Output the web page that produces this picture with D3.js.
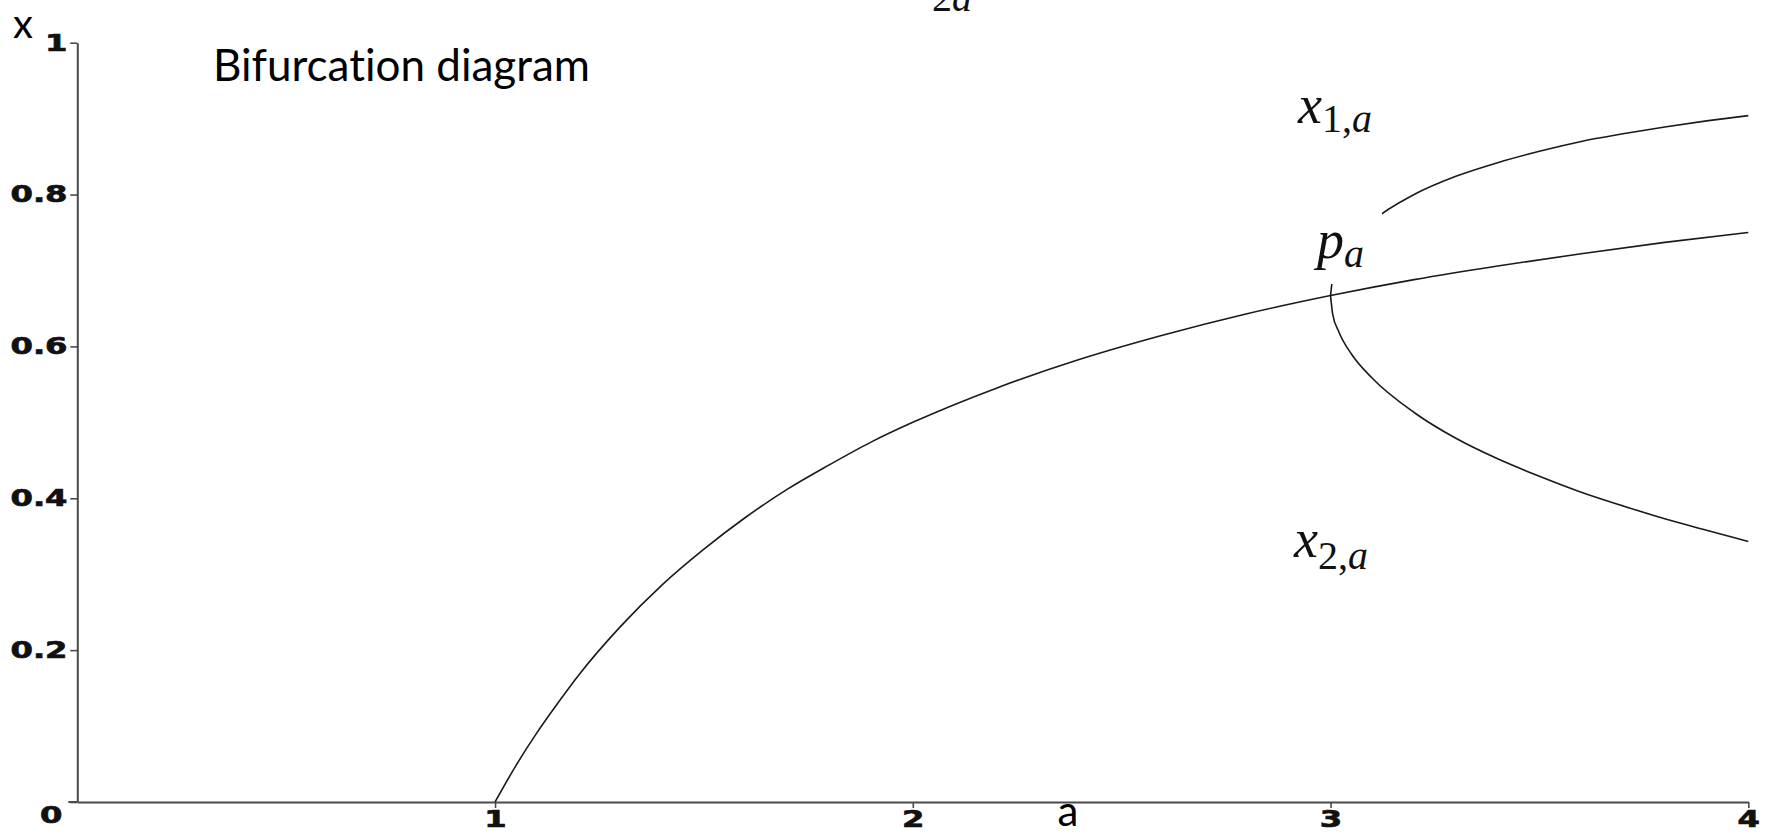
<!DOCTYPE html>
<html>
<head>
<meta charset="utf-8">
<script src="https://cdn.jsdelivr.net/npm/d3@7"></script>
<style>
  html, body { margin: 0; padding: 0; background: #fff; }
  svg { display: block; }
  text { font-variant-ligatures: none; }
</style>
</head>
<body>
<svg id="chart" width="1787" height="834"></svg>
<script>
// Logistic map: fixed point p_a and the two points of the period-2 orbit
const fixedA = [1.0, 1.05, 1.1, 1.15, 1.2, 1.3, 1.4, 1.5, 1.6, 1.7, 1.8, 1.9, 2.0, 2.2, 2.4, 2.6, 2.8, 3.0, 3.2, 3.4, 3.6, 3.8, 4.0];
const fixedX = [0, 0.048, 0.091, 0.130, 0.167, 0.231, 0.286, 0.333, 0.375, 0.412, 0.444, 0.474, 0.500, 0.545, 0.583, 0.615, 0.643, 0.667, 0.688, 0.706, 0.722, 0.737, 0.750];

const orbitA = [3.0, 3.005, 3.02, 3.05, 3.1, 3.2, 3.3, 3.4, 3.5, 3.6, 3.7, 3.8, 3.9, 4.0];
const upperX = [0.667, 0.690, 0.713, 0.738, 0.765, 0.800, 0.824, 0.842, 0.857, 0.870, 0.880, 0.889, 0.897, 0.904];
const lowerX = [0.667, 0.643, 0.619, 0.590, 0.558, 0.513, 0.479, 0.452, 0.429, 0.408, 0.390, 0.373, 0.358, 0.343];

const xTicks = [1, 2, 3, 4];
const xTickLabels = ["1", "2", "3", "4"];
const yTicks = [0, 0.2, 0.4, 0.6, 0.8, 1];
const yTickLabels = ["", "0.2", "0.4", "0.6", "0.8", "1"];
const xMinorTicks = d3.range(0, 4.0001, 0.2);
const yMinorTicks = d3.range(0, 1.0001, 0.04);

const svg = d3.select("#chart");

const plot = { left: 77.3, right: 1748.3, top: 42.7, bottom: 802 };
const x = d3.scaleLinear().domain([0, 4]).range([plot.left, plot.right]);
const y = d3.scaleLinear().domain([0, 1]).range([plot.bottom, plot.top]);

const axisColor = "#4a4a4a";
const tickFont = "'DejaVu Sans', sans-serif";
const stretch = "scale(1.4,1)";

const heavyLabel = sel => sel
  .attr("fill", "#111")
  .attr("stroke", "#111")
  .attr("stroke-width", 0.7)
  .style("font-family", tickFont)
  .style("font-weight", "bold")
  .style("font-size", "23px");

// --- axes ---
const gy = svg.append("g").attr("transform", `translate(${plot.left},0)`);
gy.call(d3.axisLeft(y).tickValues(yMinorTicks).tickSize(5).tickSizeOuter(0).tickFormat(""));
gy.call(d3.axisLeft(y).tickValues(yTicks).tickSize(7).tickSizeOuter(0).tickPadding(0)
  .tickFormat((d, i) => yTickLabels[i]));

const gx = svg.append("g").attr("transform", `translate(0,${plot.bottom})`);
gx.call(d3.axisBottom(x).tickValues(xMinorTicks).tickSize(4).tickSizeOuter(0).tickFormat(""));
gx.call(d3.axisBottom(x).tickValues(xTicks).tickSize(6).tickSizeOuter(0).tickPadding(3)
  .tickFormat((d, i) => xTickLabels[i]));

[gx, gy].forEach(g => {
  g.selectAll("path.domain").attr("stroke", axisColor).attr("stroke-width", 2);
  g.selectAll(".tick line").attr("stroke", axisColor).attr("stroke-width", 1.6);
  g.selectAll(".tick text").call(heavyLabel).attr("transform", stretch);
});
// short stub of the horizontal axis left of the origin
svg.append("line")
  .attr("x1", x(0) - 9).attr("x2", x(0))
  .attr("y1", y(0)).attr("y2", y(0))
  .attr("stroke", axisColor).attr("stroke-width", 2);

// origin label
svg.append("g")
  .attr("transform", `translate(${x(0) - 26},${y(0) + 21}) ${stretch}`)
  .append("text")
  .attr("text-anchor", "middle")
  .call(heavyLabel)
  .text("0");

// --- curves ---
const line = d3.line()
  .x(d => x(d[0]))
  .y(d => y(d[1]))
  .curve(d3.curveMonotoneX);

const curveStyle = sel => sel
  .attr("fill", "none")
  .attr("stroke", "#1a1a1a")
  .attr("stroke-width", 1.6);

svg.append("path")
  .datum(orbitA.map((a, i) => [a, upperX[i]]))
  .attr("d", line)
  .call(curveStyle);

// white backing of the p_a label
svg.append("rect")
  .attr("x", 1300).attr("y", 188)
  .attr("width", 82).attr("height", 96)
  .attr("fill", "#fff");

svg.append("path")
  .datum(fixedA.map((a, i) => [a, fixedX[i]]))
  .attr("d", line)
  .call(curveStyle);

svg.append("path")
  .datum(orbitA.map((a, i) => [a, lowerX[i]]))
  .attr("d", line)
  .call(curveStyle);

// --- text ---
const sans = "Lato, 'Open Sans', sans-serif";
const serif = "'Liberation Serif', 'DejaVu Serif', serif";

svg.append("text")
  .attr("x", 213).attr("y", 81)
  .style("font-family", sans).style("font-size", "44px").attr("fill", "#000")
  .text("Bifurcation diagram");

svg.append("text")
  .attr("x", 13).attr("y", 38)
  .style("font-family", sans).style("font-size", "40px").attr("fill", "#000")
  .text("x");

svg.append("text")
  .attr("x", 1068).attr("y", 826)
  .attr("text-anchor", "middle")
  .style("font-family", sans).style("font-size", "42px").attr("fill", "#000")
  .text("a");

// fragment of a formula running off the top edge
const frag = svg.append("text")
  .attr("x", 932).attr("y", 11)
  .style("font-family", serif).style("font-size", "40px").attr("fill", "#111");
frag.append("tspan").text("2");
frag.append("tspan").style("font-style", "italic").text("a");

function mathLabel(px, py, base, subParts, subDy) {
  const t = svg.append("text")
    .attr("x", px).attr("y", py)
    .style("font-family", serif).attr("fill", "#111");
  t.append("tspan").style("font-size", "54px").style("font-style", "italic").text(base);
  subParts.forEach((p, i) => {
    const s = t.append("tspan").style("font-size", "40px")
      .style("font-style", p.italic ? "italic" : "normal")
      .text(p.t);
    if (i === 0) s.attr("dy", subDy);
  });
}

mathLabel(1298, 123, "x", [{ t: "1," }, { t: "a", italic: true }], 9);
mathLabel(1317, 258, "p", [{ t: "a", italic: true }], 9);
mathLabel(1294, 557, "x", [{ t: "2," }, { t: "a", italic: true }], 12);
</script>
</body>
</html>
